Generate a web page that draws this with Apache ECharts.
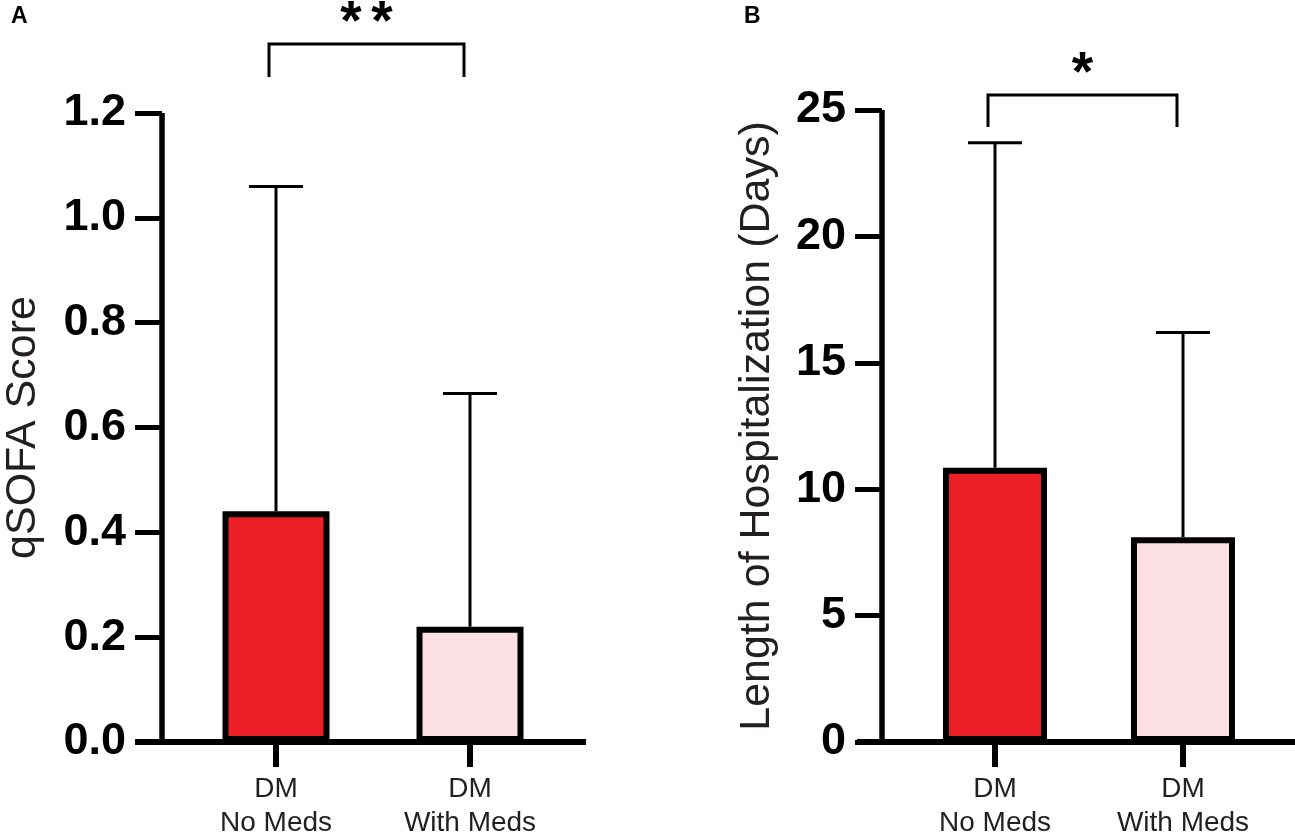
<!DOCTYPE html>
<html>
<head>
<meta charset="utf-8">
<script src="https://cdn.jsdelivr.net/npm/echarts@6/dist/echarts.min.js"></script>
<style>
  html, body { margin: 0; padding: 0; background: #fff; }
  #chart { width: 1295px; height: 834px; }
</style>
</head>
<body>
<div id="chart"></div>
<script>
// categories
var groups = ['DM\nNo Meds', 'DM\nWith Meds'];
// panel A: qSOFA score, mean and SD
var qsofaMean = [0.44, 0.22];
var qsofaSd = [0.62, 0.445];
// panel B: length of hospitalization (days), mean and SD
var stayMean = [10.85, 8.1];
var staySd = [12.85, 8.1];
var qsofaTicks = [0, 1.2, 0.2];
var stayTicks = [0, 25, 5];
var barColors = ['#EC1F26', '#FBDFE2'];

var font = '"Liberation Sans", Arial, Helvetica, sans-serif';

var chart = echarts.init(document.getElementById('chart'));

function barData(vals) {
    return vals.map(function (v, i) {
        return { value: v, itemStyle: { color: barColors[i] } };
    });
}
function errData(mean, sd) {
    return mean.map(function (m, i) { return [i, m, sd[i]]; });
}
//误差线
function errRender(params, api) {
    var x = api.value(0), m = api.value(1), s = api.value(2);
    var p0 = api.coord([x, m]);
    var p1 = api.coord([x, m + s]);
    var st = { stroke: '#000', lineWidth: 3 };
    return {
        type: 'group',
        children: [
            { type: 'line', shape: { x1: p0[0], y1: p0[1], x2: p1[0], y2: p1[1] }, style: st },
            { type: 'line', shape: { x1: p1[0] - 27, y1: p1[1], x2: p1[0] + 27, y2: p1[1] }, style: st }
        ]
    };
}

function xAxisOpt(grid) {
    return {
        type: 'category',
        gridIndex: grid,
        data: groups,
        axisLine: { show: false },
        axisTick: { show: true, alignWithLabel: true, length: 25, lineStyle: { color: '#000', width: 6 } },
        axisLabel: { color: '#231F20', fontFamily: font, fontSize: 28, lineHeight: 34, margin: 30 }
    };
}
function yAxisOpt(grid, ticks, name, gap, off) {
    return {
        type: 'value',
        gridIndex: grid,
        min: ticks[0], max: ticks[1], interval: ticks[2],
        offset: off,
        name: name,
        nameLocation: 'middle',
        nameGap: gap,
        nameTextStyle: { color: '#231F20', fontFamily: font, fontSize: 43 },
        axisLine: { show: true, lineStyle: { color: '#000', width: 5.5, cap: 'butt' } },
        axisTick: { show: true, length: 27, lineStyle: { color: '#000', width: 5 } },
        axisLabel: {
            color: '#000', fontFamily: font, fontWeight: 'bold', fontSize: 45, margin: 36,
            formatter: function (v) { return ticks[1] < 5 ? v.toFixed(1) : String(v); }
        },
        splitLine: { show: false }
    };
}

var option = {
    animation: false,
    backgroundColor: '#fff',
    grid: [
        { left: 179, top: 113, width: 388, height: 629, outerBoundsMode: 'none', containLabel: false },
        { left: 901, top: 110, width: 376, height: 632, outerBoundsMode: 'none', containLabel: false }
    ],
    xAxis: [xAxisOpt(0), xAxisOpt(1)],
    yAxis: [
        yAxisOpt(0, qsofaTicks, 'qSOFA Score', 117, 17),
        yAxisOpt(1, stayTicks, 'Length of Hospitalization (Days)', 103, 19)
    ],
    series: [
        { type: 'custom', xAxisIndex: 0, yAxisIndex: 0, renderItem: errRender, data: errData(qsofaMean, qsofaSd), z: 1 },
        { type: 'custom', xAxisIndex: 1, yAxisIndex: 1, renderItem: errRender, data: errData(stayMean, staySd), z: 1 },
        {
            type: 'bar', xAxisIndex: 0, yAxisIndex: 0, barWidth: 107, z: 3,
            itemStyle: { borderColor: '#000', borderWidth: 6 },
            data: barData(qsofaMean)
        },
        {
            type: 'bar', xAxisIndex: 1, yAxisIndex: 1, barWidth: 104, z: 3,
            itemStyle: { borderColor: '#000', borderWidth: 6 },
            data: barData(stayMean)
        }
    ]
};
chart.setOption(option);

//基线、显著性标记 (stars: 星号个数)
function decorations(grid, leftExt, rightEnd, brTop, brBottom, stars, starY) {
    var p0 = chart.convertToPixel({ gridIndex: grid }, [0, 0]);
    var p1 = chart.convertToPixel({ gridIndex: grid }, [1, 0]);
    var axisX = option.grid[grid].left - option.yAxis[grid].offset;
    var a = p0[0] - 7, b = p1[0] - 6;
    var mid = (a + b) / 2;
    var list = [
        { type: 'line', z: 10, shape: { x1: axisX - leftExt, y1: p0[1], x2: rightEnd, y2: p0[1] },
          style: { stroke: '#000', lineWidth: 6 } },
        { type: 'polyline', z: 10, shape: { points: [[a, brBottom], [a, brTop], [b, brTop], [b, brBottom]] },
          style: { stroke: '#000', lineWidth: 3, fill: null } }
    ];
    for (var i = 0; i < stars; i++) {
        list.push({ type: 'text', z: 10, style: {
            text: '*', x: mid + (i - (stars - 1) / 2) * 31, y: starY, align: 'center', verticalAlign: 'middle',
            font: 'bold 55px ' + font, fill: '#000' } });
    }
    return list;
}

var els = [].concat(
    decorations(0, 27, 586, 44, 77, 2, 24),
    decorations(1, 25, 1295, 95, 127, 1, 75),
    [
        { type: 'text', style: { text: 'A', x: 11, y: 5, font: 'bold 23px ' + font, fill: '#000' } },
        { type: 'text', style: { text: 'B', x: 744, y: 5, font: 'bold 23px ' + font, fill: '#000' } }
    ]
);
chart.setOption({ graphic: { elements: els } });
</script>
</body>
</html>
